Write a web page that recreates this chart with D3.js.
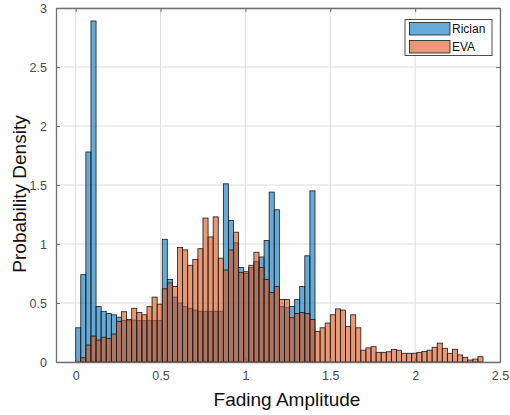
<!DOCTYPE html>
<html>
<head>
<meta charset="utf-8">
<script src="https://cdn.jsdelivr.net/npm/d3@7"></script>
<style>
  html, body { margin: 0; padding: 0; background: #fff; }
  svg { display: block; }
  text { font-family: "Liberation Sans", Arial, sans-serif; }
</style>
</head>
<body>
<svg id="chart" width="510" height="415"></svg>
<script>
// ---- data ----
const seriesNames = ["Rician", "EVA"];
const binWidth = 0.03;
const ricianStart = 0.0;
const evaStart = 0.03;
const ricianValues = [
  0.29, 0.74, 1.78, 2.89, 0.47, 0.43, 0.41, 0.40, 0.38, 0.35,
  0.35, 0.355, 0.35, 0.35, 0.35, 0.35, 0.35, 1.04, 0.70, 0.55,
  0.50, 0.47, 0.455, 0.44, 0.43, 0.43, 0.43, 0.43, 0.43, 1.51,
  1.20, 1.01, 0.80, 0.75, 0.80, 0.85, 0.89, 1.03, 1.44, 1.29,
  0.47, 0.46, 0.47, 0.53, 0.64, 0.90, 1.45
];
const evaValues = [
  0.036, 0.144, 0.22, 0.186, 0.21, 0.20, 0.237, 0.345, 0.426, 0.36,
  0.455, 0.42, 0.40, 0.47, 0.55, 0.49, 0.62, 0.67, 0.64, 0.97,
  0.95, 0.82, 0.87, 0.96, 1.22, 1.06, 1.23, 0.88, 0.78, 0.95,
  1.10, 0.76, 0.765, 0.82, 0.93, 0.80, 0.70, 0.59, 0.64, 0.53,
  0.53, 0.375, 0.41, 0.42, 0.41, 0.36, 0.26, 0.29, 0.33, 0.40,
  0.45, 0.44, 0.30, 0.40, 0.29, 0.10, 0.12, 0.13, 0.082, 0.082,
  0.087, 0.107, 0.10, 0.074, 0.074, 0.074, 0.082, 0.09, 0.10, 0.125,
  0.16, 0.116, 0.074, 0.108, 0.06, 0.04, 0.017, 0.025, 0.045
];
const xTicks = [0, 0.5, 1, 1.5, 2, 2.5];
const xTickLabels = ["0", "0.5", "1", "1.5", "2", "2.5"];
const yTicks = [0, 0.5, 1, 1.5, 2, 2.5, 3];
const yTickLabels = ["0", "0.5", "1", "1.5", "2", "2.5", "3"];
const xDomain = [-0.116, 2.5];
const yDomain = [0, 3];

// ---- layout ----
const L = 56, R = 500, T = 8, B = 362;
const colors = ["#0072BD", "#D95319"];

const svg = d3.select("#chart");
const x = d3.scaleLinear().domain(xDomain).range([L, R]);
const y = d3.scaleLinear().domain(yDomain).range([B, T]);

// grid
const grid = svg.append("g");
grid.selectAll("line.gx").data(xTicks).join("line")
  .attr("x1", d => x(d)).attr("x2", d => x(d))
  .attr("y1", T).attr("y2", B)
  .attr("stroke", "#dedede").attr("stroke-width", 1);
grid.selectAll("line.gy").data(yTicks).join("line")
  .attr("x1", L).attr("x2", R)
  .attr("y1", d => y(d)).attr("y2", d => y(d))
  .attr("stroke", "#dedede").attr("stroke-width", 1);

// bars
function toBins(values, start) {
  return values.map((v, i) => ({ x0: start + i * binWidth, x1: start + (i + 1) * binWidth, v }));
}
const series = [toBins(ricianValues, ricianStart), toBins(evaValues, evaStart)];
series.forEach((bins, si) => {
  svg.append("g").selectAll("rect").data(bins).join("rect")
    .attr("x", d => x(d.x0))
    .attr("width", d => x(d.x1) - x(d.x0))
    .attr("y", d => y(d.v))
    .attr("height", d => y(0) - y(d.v))
    .attr("fill", colors[si])
    .attr("fill-opacity", 0.6)
    .attr("stroke", "#1a1a1a")
    .attr("stroke-width", 0.8);
});

// axes (MATLAB box style, inward ticks)
const axisColor = "#707070";
const tickLen = 4;
const xAxis = d3.axisBottom(x).tickValues(xTicks)
  .tickFormat((d, i) => xTickLabels[i]).tickSizeInner(-tickLen).tickSizeOuter(0).tickPadding(9);
const gx = svg.append("g").attr("transform", `translate(0,${B})`).call(xAxis);
const yAxis = d3.axisLeft(y).tickValues(yTicks)
  .tickFormat((d, i) => yTickLabels[i]).tickSizeInner(-tickLen).tickSizeOuter(0).tickPadding(9);
const gy = svg.append("g").attr("transform", `translate(${L},0)`).call(yAxis);
const xTop = d3.axisTop(x).tickValues(xTicks).tickFormat("").tickSizeInner(-tickLen).tickSizeOuter(0);
const gxt = svg.append("g").attr("transform", `translate(0,${T})`).call(xTop);
const yRight = d3.axisRight(y).tickValues(yTicks).tickFormat("").tickSizeInner(-tickLen).tickSizeOuter(0);
const gyr = svg.append("g").attr("transform", `translate(${R},0)`).call(yRight);
[gx, gy, gxt, gyr].forEach(g => {
  g.select(".domain").attr("stroke", axisColor).attr("stroke-width", 1.3);
  g.selectAll(".tick line").attr("stroke", axisColor).attr("stroke-width", 1);
  g.selectAll(".tick text").attr("fill", "#4a4a4a")
    .style("font-family", "'Liberation Sans', Arial, sans-serif").style("font-size", "12.5px");
});

// axis labels
svg.append("text").attr("x", 287).attr("y", 406).attr("text-anchor", "middle")
  .attr("fill", "#111").style("font-size", "19px").text("Fading Amplitude");
svg.append("text").attr("transform", "translate(26,194) rotate(-90)").attr("text-anchor", "middle")
  .attr("fill", "#111").style("font-size", "19px").text("Probability Density");

// legend
const lg = svg.append("g");
lg.append("rect").attr("x", 405).attr("y", 19.5).attr("width", 87).attr("height", 36)
  .attr("fill", "#fff").attr("stroke", "#4d4d4d").attr("stroke-width", 1);
seriesNames.forEach((name, i) => {
  const yy = 22.5 + i * 18;
  lg.append("rect").attr("x", 409.5).attr("y", yy).attr("width", 40.5).attr("height", 12.5)
    .attr("fill", colors[i]).attr("fill-opacity", 0.6)
    .attr("stroke", "#1a1a1a").attr("stroke-width", 0.8);
  lg.append("text").attr("x", 452).attr("y", yy + 10.5)
    .attr("fill", "#111").style("font-size", "12px").text(name);
});
</script>
</body>
</html>
